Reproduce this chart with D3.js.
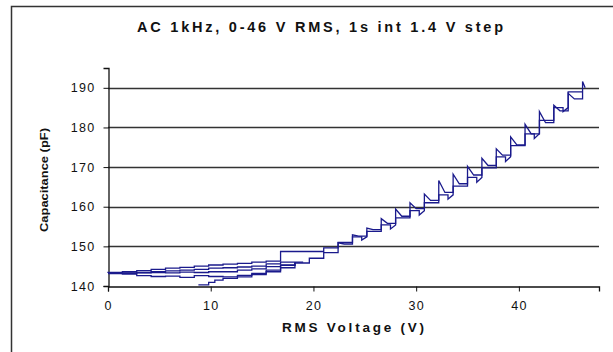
<!DOCTYPE html>
<html><head><meta charset="utf-8">
<script src="https://cdn.jsdelivr.net/npm/d3@7"></script>
<style>
body{margin:0;background:#fff}
svg{display:block}
text{font-family:"Liberation Sans",Arial,sans-serif;fill:#111}
</style>
</head><body>
<svg id="c" width="613" height="352"></svg>
<script>
const title = "AC 1kHz, 0-46 V RMS, 1s int 1.4 V step";
const xLabel = "RMS Voltage (V)";
const yLabel = "Capacitance (pF)";
const xTicks = [0, 10, 20, 30, 40];
const yTicks = [140, 150, 160, 170, 180, 190];
const xDomain = [0, 47.8];
const yDomain = [140, 195];

// first up-sweep, low part (stepped)
const upLowV = [8.8, 9.3, 9.8, 10.4, 11.2, 12.6, 14.0, 15.4, 16.8, 18.2, 19.6, 21.0];
const upLowC = [140.3, 140.3, 140.9, 141.5, 141.9, 142.3, 142.9, 143.6, 144.6, 145.8, 147.0, 148.4];
// first up-sweep, high part (each step: jump to peak, relax to settle)
const upV      = [22.4, 23.8, 25.2, 26.6, 28.0, 29.4, 30.8, 32.2, 33.6, 35.0, 36.4, 37.8, 39.2, 40.6, 42.0, 43.4, 44.8, 46.2];
const upPeak   = [150.9, 152.9, 154.6, 157.0, 159.4, 161.0, 163.2, 166.6, 168.2, 170.2, 172.2, 174.6, 177.6, 180.8, 184.0, 185.6, 188.6, 191.6];
const upSettle = [150.6, 152.6, 154.2, 155.8, 157.6, 159.5, 161.6, 163.6, 165.8, 168.0, 170.4, 173.0, 175.6, 178.4, 181.2, 184.2, 187.2, 190.0];
// first down-sweep
const downV = [46.2, 44.8, 43.4, 42.0, 40.6, 39.2, 37.8, 36.4, 35.0, 33.6, 32.2, 30.8, 29.4, 28.0, 26.6, 25.2, 23.8, 22.4, 21.0, 16.8, 15.4, 14.0, 12.6, 11.2, 9.8, 8.4, 7.0, 5.6, 4.2, 2.8, 1.4, 0];
const downC = [189.0, 185.0, 181.8, 178.4, 175.4, 172.6, 169.8, 167.4, 165.2, 163.0, 161.0, 159.0, 157.2, 155.4, 153.8, 152.4, 151.0, 149.6, 148.7, 146.3, 146.0, 145.7, 145.5, 145.3, 145.0, 144.7, 144.5, 144.2, 143.9, 143.6, 143.4, 143.3];
// down-sweep 1: short dips at some steps (voltage, dip depth level)
const downDipV = [44.8, 42.0, 39.2, 36.4, 33.6, 30.8, 28.0, 25.2];
const downDipC = [184.0, 177.2, 171.4, 166.2, 161.9, 157.9, 154.4, 151.6];
// second up-sweep
const up2V = [0, 1.4, 2.8, 4.2, 5.6, 7.0, 8.4, 9.8, 11.2, 12.6, 14.0, 15.4, 16.8, 18.2];
const up2C = [143.1, 143.0, 142.6, 142.4, 142.5, 142.2, 142.6, 142.4, 142.3, 142.7, 143.2, 144.0, 145.2, 145.8];
// second down-sweep
const down2V = [19.0, 16.8, 15.4, 14.0, 12.6, 11.2, 9.8, 8.4, 7.0, 5.6, 4.2, 2.8, 1.4, 0];
const down2C = [146.0, 145.6, 145.0, 144.8, 144.6, 144.5, 144.2, 144.0, 143.8, 143.6, 143.4, 143.3, 143.2, 143.2];
// third up-sweep
const up3V = [0, 1.4, 2.8, 4.2, 5.6, 7.0, 8.4, 9.8, 11.2, 12.6, 14.0, 15.4, 16.8, 18.2];
const up3C = [143.3, 143.2, 143.3, 143.4, 143.3, 143.5, 143.4, 143.6, 143.6, 144.0, 144.3, 144.9, 145.3, 146.0];

const svg = d3.select("#c");
const x = d3.scaleLinear().domain(xDomain).range([108, 599]);
const y = d3.scaleLinear().domain(yDomain).range([286, 68]);

// outer frame
svg.append("rect").attr("x", 11.5).attr("y", 6.5).attr("width", 640).attr("height", 380)
  .attr("fill", "none").attr("stroke", "#333").attr("stroke-width", 1.5);

// title
svg.append("text").attr("x", 320).attr("y", 32).attr("text-anchor", "middle")
  .attr("font-size", 14.5).attr("font-weight", "bold")
  .attr("textLength", 366).attr("lengthAdjust", "spacing").text(title);

// gridlines
svg.append("g").selectAll("line").data(yTicks.slice(1)).join("line")
  .attr("x1", x(0)).attr("x2", x(xDomain[1]))
  .attr("y1", d => Math.round(y(d)) + 0.5).attr("y2", d => Math.round(y(d)) + 0.5)
  .attr("stroke", "#333").attr("stroke-width", 1.6);

// axes
const xAxis = d3.axisBottom(x).tickValues(xTicks).tickSize(5).tickPadding(8).tickFormat(d3.format("d"));
const yAxis = d3.axisLeft(y).tickValues(yTicks).tickSize(5).tickPadding(8).tickFormat(d3.format("d"));
const gx = svg.append("g").attr("transform", `translate(0,${Math.round(y(140)) + 0.5})`).call(xAxis);
const gy = svg.append("g").attr("transform", `translate(${Math.round(x(0)) + 0.5},0)`).call(yAxis);
[gx, gy].forEach(g => {
  g.select(".domain").attr("stroke", "#111").attr("stroke-width", 1.3);
  g.selectAll(".tick line").attr("stroke", "#111");
  g.selectAll(".tick text").attr("font-size", 12.5).attr("letter-spacing", "1.3px")
    .attr("font-family", "'Liberation Sans',Arial,sans-serif").attr("fill", "#222");
});
gx.selectAll(".tick text").attr("dy", "0.85em");

// axis titles
svg.append("text").attr("x", 353).attr("y", 332).attr("text-anchor", "middle")
  .attr("font-size", 13.5).attr("font-weight", "bold")
  .attr("textLength", 142).attr("lengthAdjust", "spacing").text(xLabel);
svg.append("text").attr("transform", "translate(48,180) rotate(-90)").attr("text-anchor", "middle")
  .attr("font-size", 11.5).attr("font-weight", "bold")
  .attr("textLength", 104).attr("lengthAdjust", "spacingAndGlyphs").text(yLabel);

// data paths
const zip = (vs, cs) => vs.map((v, i) => [v, cs[i]]);
const stepLine = d3.line().x(d => x(d[0])).y(d => y(d[1])).curve(d3.curveStepAfter);
const plainLine = d3.line().x(d => x(d[0])).y(d => y(d[1]));

// up-sweep 1 with spiky relaxation
const sweepA = [];
upLowV.forEach((v, i) => {
  sweepA.push([v, upLowC[i]]);
  const nv = i + 1 < upLowV.length ? upLowV[i + 1] : upV[0];
  sweepA.push([nv, upLowC[i]]);
});
upV.forEach((v, i) => {
  sweepA.push([v, upPeak[i]]);
  const relaxV = i + 1 < upV.length ? v + 0.6 : v + 0.25;
  sweepA.push([relaxV, upSettle[i]]);
  if (i + 1 < upV.length) sweepA.push([upV[i + 1], upSettle[i]]);
});

// down-sweep 1 with small dips
const sweepB = [];
downV.forEach((v, i) => {
  const j = downDipV.indexOf(v);
  if (j >= 0) {
    sweepB.push([v, downC[i]]);
    sweepB.push([v - 0.5, downDipC[j]]);
    sweepB.push([v - 0.5, downC[i]]);
  } else {
    sweepB.push([v, downC[i]]);
  }
  if (i + 1 < downV.length) sweepB.push([downV[i + 1], downC[i]]);
});

const lineColor = "#1a1a8c";
const g = svg.append("g").attr("fill", "none").attr("stroke", lineColor).attr("stroke-width", 1.3);
g.append("path").attr("d", plainLine(sweepA));
g.append("path").attr("d", plainLine(sweepB));
g.append("path").attr("d", stepLine(zip(up2V, up2C)));
g.append("path").attr("d", stepLine(zip(down2V, down2C)));
g.append("path").attr("d", stepLine(zip(up3V, up3C)));
</script>
</body></html>
